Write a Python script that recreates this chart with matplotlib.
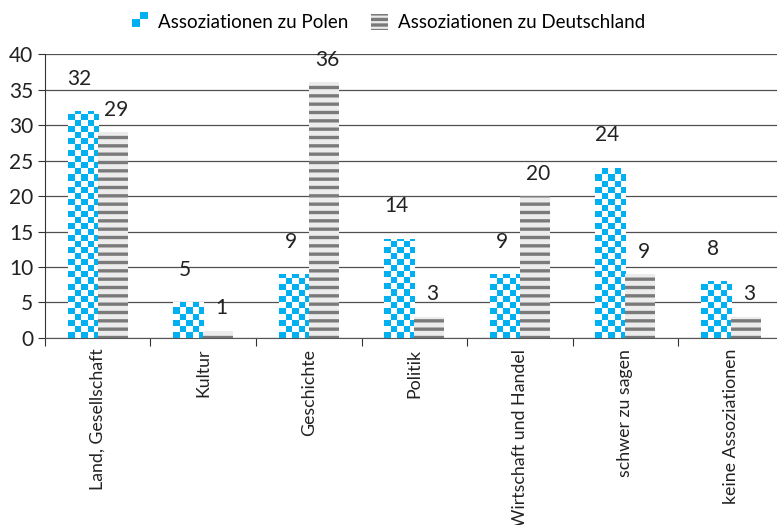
import numpy as np
import matplotlib
matplotlib.use('Agg')
import matplotlib.pyplot as plt
from matplotlib.patches import Rectangle, Patch

# data
categories = ['Land, Gesellschaft', 'Kultur', 'Geschichte', 'Politik',
              'Wirtschaft und Handel', 'schwer zu sagen', 'keine Assoziationen']
polen = [32, 5, 9, 14, 9, 24, 8]
deutschland = [29, 1, 36, 3, 20, 9, 3]
series_names = ['Assoziationen zu Polen', 'Assoziationen zu Deutschland']

blue = '#00B0F0'
gray = '#7a7a7a'

plt.rcParams['font.family'] = ['Lato', 'DejaVu Sans']
plt.rcParams['hatch.color'] = gray
plt.rcParams['hatch.linewidth'] = 2.4

fig = plt.figure(figsize=(7.77, 5.25), dpi=100)
ax = fig.add_axes([0.0579, 0.3562, 0.9505, 0.5409])

x = np.arange(len(categories))
w = 0.285

# checkerboard image for the Polen bars
xmin, xmax, ymax = -0.5, len(categories) - 0.5, 40
nx = int((xmax - xmin) / 0.06)
ny = int(ymax / 0.85)
checker = (np.add.outer(np.arange(ny), np.arange(nx)) % 2).astype(float)
cmap = matplotlib.colors.ListedColormap([blue, 'white'])

bars_pl = ax.bar(x - w / 2, polen, w, color='none', linewidth=0)
for b in bars_pl:
    im = ax.imshow(checker, extent=(b.get_x(), b.get_x() + nx * 0.06, 0, ny * 0.85),
                   origin='lower', cmap=cmap, aspect='auto', interpolation='nearest',
                   zorder=2)
    im.set_clip_path(b)

bars_de = ax.bar(x + w / 2, deutschland, w, color='#ececec', hatch='--',
                 linewidth=0, zorder=2)

# value labels
for b, v in zip(bars_pl, polen):
    ax.annotate(str(v), (b.get_x() + b.get_width() / 2 - 0.03, v), xytext=(0, 16),
                textcoords='offset points', ha='center', va='bottom', fontsize=15,
                color='#222222')
for b, v in zip(bars_de, deutschland):
    ax.annotate(str(v), (b.get_x() + b.get_width() / 2 + 0.03, v), xytext=(0, 9),
                textcoords='offset points', ha='center', va='bottom', fontsize=15,
                color='#222222')

ax.set_xlim(xmin, xmax)
ax.set_ylim(0, 40)
ax.set_yticks(range(0, 41, 5))
ax.yaxis.grid(True, color='#505050', linewidth=0.9)
ax.set_axisbelow(True)
for s in ['top', 'right']:
    ax.spines[s].set_visible(False)
ax.spines['left'].set_color('#333333')
ax.spines['bottom'].set_color('#555555')
ax.tick_params(axis='y', labelsize=15, length=5, color='#333333', labelcolor='#222222')

ax.set_xticks(np.arange(len(categories) + 1) - 0.5)
ax.set_xticklabels([])
ax.tick_params(axis='x', length=6, color='#333333')
for xi, c in zip(x, categories):
    ax.text(xi, -1.5, c, rotation=90, ha='center', va='top', fontsize=12.8,
            color='#222222')


# legend handle that draws a small checker square
class CheckerHandler:
    def legend_artist(self, legend, orig_handle, fontsize, handlebox):
        x0, y0 = handlebox.xdescent, handlebox.ydescent
        s = handlebox.height / 2
        for i in range(2):
            for j in range(2):
                c = blue if (i + j) % 2 == 0 else 'white'
                r = Rectangle((x0 + i * s, y0 + j * s), s, s, facecolor=c,
                              edgecolor='none', transform=handlebox.get_transform())
                handlebox.add_artist(r)
        return r


h_pl = Patch(label=series_names[0])
h_de = Patch(facecolor='#ececec', hatch='---', linewidth=0, label=series_names[1])
fig.legend(handles=[h_pl, h_de], loc='upper center', bbox_to_anchor=(0.5, 1.005),
           ncol=2, frameon=False, fontsize=13.5, handlelength=0.9, handleheight=0.9,
           handletextpad=0.5, columnspacing=1.2,
           handler_map={h_pl: CheckerHandler()})

fig.savefig('out.png', dpi=100)
